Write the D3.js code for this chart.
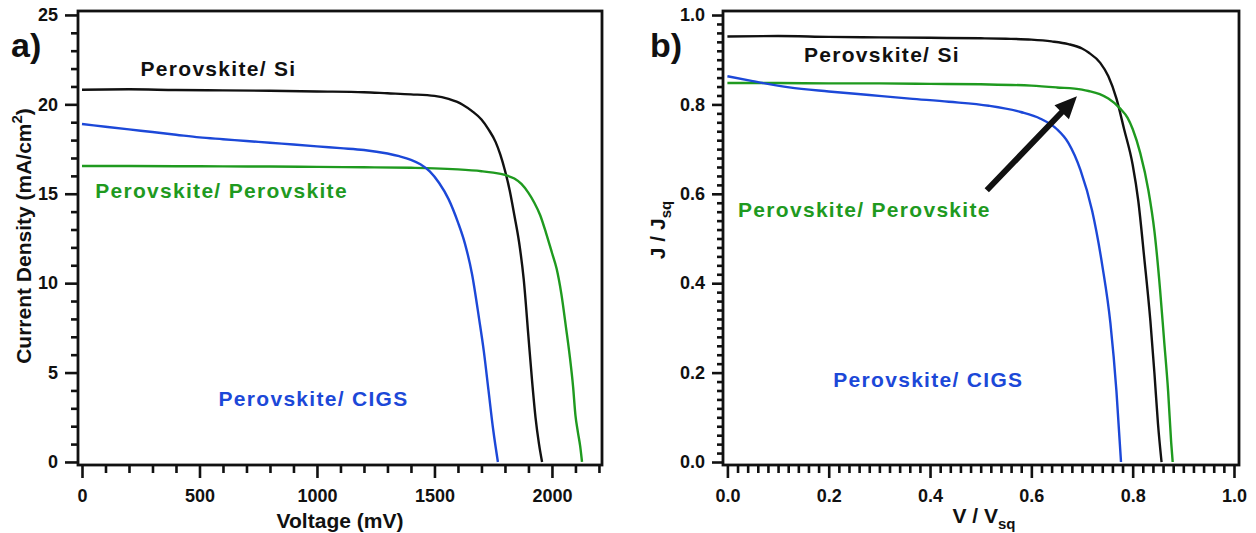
<!DOCTYPE html>
<html>
<head>
<meta charset="utf-8">
<script src="https://cdn.jsdelivr.net/npm/d3@7"></script>
<style>
    html, body { margin: 0; padding: 0; background: #fff; }
    svg { display: block; }
    .tick text { font-family: "Liberation Sans", Arial, sans-serif; font-weight: bold; font-size: 18px; fill: #111; }
    .tick line { stroke: #111; stroke-width: 2.6px; }
    .axis-title { font-family: "Liberation Sans", Arial, sans-serif; font-weight: bold; font-size: 21px; fill: #111; }
    .note { font-family: "Liberation Sans", Arial, sans-serif; font-weight: bold; font-size: 21px; letter-spacing: 1.3px; }
    .panel-tag { font-family: "Liberation Sans", Arial, sans-serif; font-weight: bold; font-size: 34px; fill: #111; }
</style>
</head>
<body>
<svg id="chart" width="1256" height="533"></svg>
<script>
// ─── DATA: panel a) J-V curves (mV, mA/cm2) ───
const siV   = [0, 200, 400, 600, 800, 1000, 1200, 1300, 1400, 1500, 1560, 1620, 1660, 1700, 1730, 1760, 1780, 1800, 1820, 1840, 1860, 1880, 1900, 1915, 1930, 1945, 1958];
const siJ   = [20.82, 20.84, 20.80, 20.78, 20.76, 20.72, 20.68, 20.62, 20.56, 20.47, 20.30, 19.98, 19.62, 19.15, 18.6, 17.9, 17.2, 16.3, 15.2, 13.8, 12.3, 10.2, 7.0, 4.6, 2.5, 1.0, 0];
const pvkV  = [0, 200, 400, 600, 800, 1000, 1200, 1400, 1500, 1600, 1700, 1750, 1800, 1840, 1870, 1900, 1925, 1950, 1975, 2000, 2020, 2040, 2060, 2075, 2090, 2100, 2110, 2120, 2128];
const pvkJ  = [16.55, 16.55, 16.54, 16.53, 16.52, 16.50, 16.48, 16.45, 16.42, 16.36, 16.26, 16.18, 16.05, 15.85, 15.55, 15.05, 14.5, 13.8, 12.8, 11.7, 10.8, 9.4, 7.5, 6.0, 4.2, 2.6, 1.7, 0.9, 0];
const cigsV = [0, 100, 200, 300, 400, 500, 600, 700, 800, 900, 1000, 1100, 1200, 1300, 1350, 1400, 1440, 1480, 1520, 1560, 1600, 1630, 1660, 1690, 1710, 1730, 1750, 1770];
const cigsJ = [18.9, 18.75, 18.6, 18.45, 18.3, 18.15, 18.05, 17.95, 17.85, 17.75, 17.65, 17.55, 17.45, 17.25, 17.1, 16.9, 16.65, 16.25, 15.6, 14.7, 13.4, 12.2, 10.5, 8.0, 6.2, 4.0, 1.8, 0];

// ─── DATA: panel b) normalised curves (V/Vsq, J/Jsq) ───
const siX   = [0, 0.1, 0.2, 0.3, 0.4, 0.5, 0.55, 0.6, 0.64, 0.673, 0.7, 0.713, 0.736, 0.752, 0.768, 0.783, 0.8, 0.811, 0.823, 0.835, 0.843, 0.85, 0.857];
const siY   = [0.952, 0.953, 0.951, 0.950, 0.949, 0.948, 0.947, 0.945, 0.941, 0.935, 0.925, 0.916, 0.893, 0.863, 0.813, 0.745, 0.665, 0.585, 0.455, 0.315, 0.198, 0.085, 0];
const pvkX  = [0, 0.1, 0.2, 0.3, 0.4, 0.5, 0.6, 0.65, 0.7, 0.713, 0.735, 0.752, 0.776, 0.79, 0.8, 0.815, 0.831, 0.843, 0.854, 0.862, 0.87, 0.876, 0.879];
const pvkY  = [0.848, 0.848, 0.847, 0.847, 0.846, 0.845, 0.842, 0.838, 0.833, 0.83, 0.823, 0.813, 0.79, 0.77, 0.745, 0.691, 0.608, 0.516, 0.387, 0.273, 0.158, 0.044, 0];
const cigsX = [0, 0.05, 0.122, 0.2, 0.28, 0.36, 0.437, 0.516, 0.579, 0.618, 0.65, 0.673, 0.697, 0.72, 0.74, 0.756, 0.768, 0.777];
const cigsY = [0.863, 0.852, 0.838, 0.829, 0.821, 0.813, 0.806, 0.797, 0.783, 0.768, 0.745, 0.714, 0.653, 0.562, 0.44, 0.311, 0.158, 0];

// ─── TICKS ───
const leftXTicks  = [0, 500, 1000, 1500, 2000];
const leftYTicks  = [0, 5, 10, 15, 20, 25];
const rightXTicks = [0, 0.2, 0.4, 0.6, 0.8, 1.0];
const rightYTicks = [0, 0.2, 0.4, 0.6, 0.8, 1.0];

const seriesNames = ["Perovskite/ Si", "Perovskite/ Perovskite", "Perovskite/ CIGS"];

// ─── STYLE / LAYOUT ───
const COLORS = { si: "#111111", pvk: "#1f9a1f", cigs: "#1c48d8" };
const svg = d3.select("#chart");

function drawPanel(cfg) {
    const x = d3.scaleLinear().domain(cfg.xDomain).range([cfg.frame.x0, cfg.frame.x1]);
    const y = d3.scaleLinear().domain(cfg.yDomain).range([cfg.frame.y1, cfg.frame.y0]);
    const g = svg.append("g");

    // minor ticks first, then majors with labels
    g.append("g")
        .attr("transform", `translate(0,${cfg.frame.y1})`)
        .call(d3.axisBottom(x).tickValues(cfg.xMinor).tickSize(8).tickFormat(""))
        .call(s => s.select(".domain").remove());
    g.append("g")
        .attr("transform", `translate(0,${cfg.frame.y1})`)
        .call(d3.axisBottom(x).tickValues(cfg.xTicks).tickSize(13).tickPadding(11).tickFormat(cfg.fmt))
        .call(s => s.select(".domain").remove());
    g.append("g")
        .attr("transform", `translate(${cfg.frame.x0},0)`)
        .call(d3.axisLeft(y).tickValues(cfg.yMinor).tickSize(cfg.yMinorLen).tickFormat(""))
        .call(s => s.select(".domain").remove());
    g.append("g")
        .attr("transform", `translate(${cfg.frame.x0},0)`)
        .call(d3.axisLeft(y).tickValues(cfg.yTicks).tickSize(cfg.yMajorLen).tickPadding(cfg.yPad).tickFormat(cfg.fmt))
        .call(s => s.select(".domain").remove());

    // curves
    const line = d3.line()
        .x(d => x(d[0]))
        .y(d => y(d[1]))
        .curve(d3.curveMonotoneX);

    g.selectAll("path.curve")
        .data(cfg.series)
        .join("path")
        .attr("class", "curve")
        .attr("fill", "none")
        .attr("stroke", d => d.color)
        .attr("stroke-width", 2.4)
        .attr("stroke-linejoin", "round")
        .attr("d", d => line(d3.zip(d.xs, d.ys)));

    // frame box
    g.append("rect")
        .attr("x", cfg.frame.x0)
        .attr("y", cfg.frame.y0)
        .attr("width", cfg.frame.x1 - cfg.frame.x0)
        .attr("height", cfg.frame.y1 - cfg.frame.y0)
        .attr("fill", "none")
        .attr("stroke", "#111")
        .attr("stroke-width", 2.8);

    // in-plot labels
    g.selectAll("text.note")
        .data(cfg.notes)
        .join("text")
        .attr("class", "note")
        .attr("x", d => x(d.at[0]))
        .attr("y", d => y(d.at[1]))
        .attr("dy", "0.36em")
        .attr("fill", d => d.color)
        .text(d => d.text);

    return { x, y, g };
}

// ─── PANEL a) ───
const left = drawPanel({
    frame: { x0: 78, x1: 602, y0: 11, y1: 465 },
    xDomain: [-17, 2213],
    yDomain: [-0.17, 25.22],
    xTicks: leftXTicks,
    yTicks: leftYTicks,
    xMinor: d3.range(0, 2201, 100).filter(v => v % 500 !== 0),
    yMinor: d3.range(0, 25, 1).filter(v => v % 5 !== 0),
    yMajorLen: 13, yMinorLen: 7, yPad: 7,
    fmt: d3.format("d"),
    series: [
        { xs: siV, ys: siJ, color: COLORS.si },
        { xs: pvkV, ys: pvkJ, color: COLORS.pvk },
        { xs: cigsV, ys: cigsJ, color: COLORS.cigs }
    ],
    notes: [
        { text: seriesNames[0], at: [249, 22.0], color: COLORS.si },
        { text: seriesNames[1], at: [56, 15.19], color: COLORS.pvk },
        { text: seriesNames[2], at: [581, 3.57], color: COLORS.cigs }
    ]
});

// ─── PANEL b) ───
const right = drawPanel({
    frame: { x0: 723, x1: 1239, y0: 11, y1: 465 },
    xDomain: [-0.0087, 1.0099],
    yDomain: [-0.0067, 1.009],
    xTicks: rightXTicks,
    yTicks: rightYTicks,
    xMinor: d3.range(1, 50).map(i => i * 0.02).filter((v, i) => (i + 1) % 10 !== 0),
    yMinor: d3.range(1, 50).map(i => i * 0.02).filter((v, i) => (i + 1) % 10 !== 0),
    yMajorLen: 11, yMinorLen: 6, yPad: 7,
    fmt: d3.format(".1f"),
    series: [
        { xs: siX, ys: siY, color: COLORS.si },
        { xs: pvkX, ys: pvkY, color: COLORS.pvk },
        { xs: cigsX, ys: cigsY, color: COLORS.cigs }
    ],
    notes: [
        { text: seriesNames[0], at: [0.151, 0.911], color: COLORS.si },
        { text: seriesNames[1], at: [0.021, 0.566], color: COLORS.pvk },
        { text: seriesNames[2], at: [0.209, 0.185], color: COLORS.cigs }
    ]
});

// arrow pointing at the perovskite/perovskite curve
(function drawArrow() {
    const tail = [right.x(0.512), right.y(0.608)];
    const tip  = [right.x(0.69), right.y(0.818)];
    const dx = tip[0] - tail[0], dy = tip[1] - tail[1];
    const len = Math.hypot(dx, dy);
    const ux = dx / len, uy = dy / len, nx = -uy, ny = ux;
    const headLen = 22, headHalf = 10, shaftHalf = 3;
    const bx = tip[0] - ux * headLen, by = tip[1] - uy * headLen;
    const pts = [
        [tail[0] + nx * shaftHalf, tail[1] + ny * shaftHalf],
        [bx + nx * shaftHalf, by + ny * shaftHalf],
        [bx + nx * headHalf, by + ny * headHalf],
        tip,
        [bx - nx * headHalf, by - ny * headHalf],
        [bx - nx * shaftHalf, by - ny * shaftHalf],
        [tail[0] - nx * shaftHalf, tail[1] - ny * shaftHalf]
    ];
    right.g.append("path")
        .attr("d", "M" + pts.map(p => p.join(",")).join("L") + "Z")
        .attr("fill", "#111");
})();

// ─── AXIS TITLES ───
svg.append("text")
    .attr("class", "axis-title")
    .attr("x", 340).attr("y", 528)
    .attr("text-anchor", "middle")
    .text("Voltage (mV)");

const ya = svg.append("text")
    .attr("class", "axis-title")
    .attr("font-size", 22)
    .attr("transform", "translate(31,236) rotate(-90)")
    .attr("text-anchor", "middle");
ya.append("tspan").text("Current Density (mA/cm");
ya.append("tspan").attr("font-size", 15).attr("dy", -9).text("2");
ya.append("tspan").attr("dy", 9).text(")");

const xb = svg.append("text")
    .attr("class", "axis-title")
    .attr("x", 984).attr("y", 523)
    .attr("text-anchor", "middle");
xb.append("tspan").text("V / V");
xb.append("tspan").attr("font-size", 15).attr("dy", 6).text("sq");

const yb = svg.append("text")
    .attr("class", "axis-title")
    .attr("transform", "translate(665,230) rotate(-90)")
    .attr("text-anchor", "middle");
yb.append("tspan").text("J / J");
yb.append("tspan").attr("font-size", 15).attr("dy", 6).text("sq");

// ─── PANEL TAGS ───
svg.append("text").attr("class", "panel-tag").attr("x", 11).attr("y", 57).text("a)");
svg.append("text").attr("class", "panel-tag").attr("x", 650).attr("y", 57).text("b)");
</script>
</body>
</html>
